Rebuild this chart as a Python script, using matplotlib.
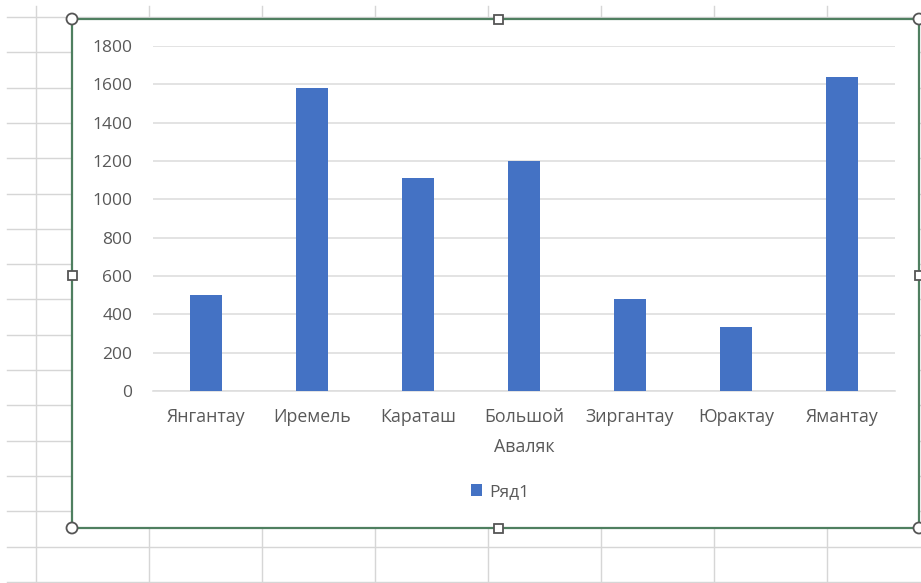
import numpy as np
import matplotlib
matplotlib.use('Agg')
import matplotlib.pyplot as plt
from matplotlib.patches import Rectangle, Circle

# данные
vershiny = ['Янгантау', 'Иремель', 'Караташ', 'Большой\nАваляк', 'Зиргантау', 'Юрактау', 'Ямантау']
vysota = [500, 1582, 1112, 1200, 482, 335, 1640]
y_ticks = [0, 200, 400, 600, 800, 1000, 1200, 1400, 1600, 1800]
seriya = 'Ряд1'

W, H = 921, 583
plt.rcParams['font.family'] = ['Open Sans', 'DejaVu Sans']
seryj = '#595959'

fig = plt.figure(figsize=(W / 100, H / 100), dpi=100)

# фон: сетка листа excel, в пикселях
bg = fig.add_axes([0, 0, 1, 1])
bg.set_xlim(0, W)
bg.set_ylim(H, 0)
bg.axis('off')
for k in range(17):
    y = 17 + 35.3 * k
    bg.plot([7, W], [y, y], color='#d6d6d6', lw=1, zorder=1)
for k in range(9):
    x = 36 + 113 * k
    bg.plot([x, x], [6, H], color='#d6d6d6', lw=1, zorder=1)

# рамка диаграммы
x0, y0, x1, y1 = 72, 19, 919, 528
bg.add_patch(Rectangle((x0, y0), x1 - x0, y1 - y0, facecolor='white',
                       edgecolor='#4f7f60', lw=1.6, zorder=2))
for (cx, cy) in [(x0, y0), (x1, y0), (x0, y1), (x1, y1)]:
    bg.add_patch(Circle((cx, cy), 5.5, facecolor='white', edgecolor='#555555', lw=1.3, zorder=3))
ym = 275
for (cx, cy) in [(498, y0), (498, y1), (x0, ym), (x1, ym)]:
    bg.add_patch(Rectangle((cx - 4.5, cy - 4.5), 9, 9, facecolor='white',
                           edgecolor='#555555', lw=1.3, zorder=3))

# область построения
pl, pr, pt, pb = 153, 895, 46, 391
ax = fig.add_axes([pl / W, 1 - pb / H, (pr - pl) / W, (pb - pt) / H])
ax.set_facecolor('none')
x = np.arange(len(vershiny))
ax.bar(x, vysota, width=0.31, color='#4472C4', zorder=3, label=seriya)
ax.set_xlim(-0.5, len(vershiny) - 0.5)
ax.set_ylim(0, 1800)
ax.set_yticks(y_ticks)
ax.set_xticks(x)
ax.set_xticklabels(vershiny, linespacing=1.85)
ax.grid(axis='y', color='#dedede', lw=1.2, zorder=0)
for s in ['top', 'right', 'left']:
    ax.spines[s].set_visible(False)
ax.spines['bottom'].set_color('#dedede')
ax.spines['bottom'].set_linewidth(1.2)
ax.tick_params(axis='y', length=0, pad=15, labelsize=12.5, labelcolor=seryj)
ax.tick_params(axis='x', length=0, pad=12, labelsize=12.8, labelcolor=seryj)

fig.legend(loc='center', bbox_to_anchor=(500 / W, 1 - 492 / H), frameon=False,
           handlelength=0.65, handleheight=0.65, handletextpad=0.4,
           fontsize=12.5, labelcolor=seryj)

fig.savefig('out.png', dpi=100)
